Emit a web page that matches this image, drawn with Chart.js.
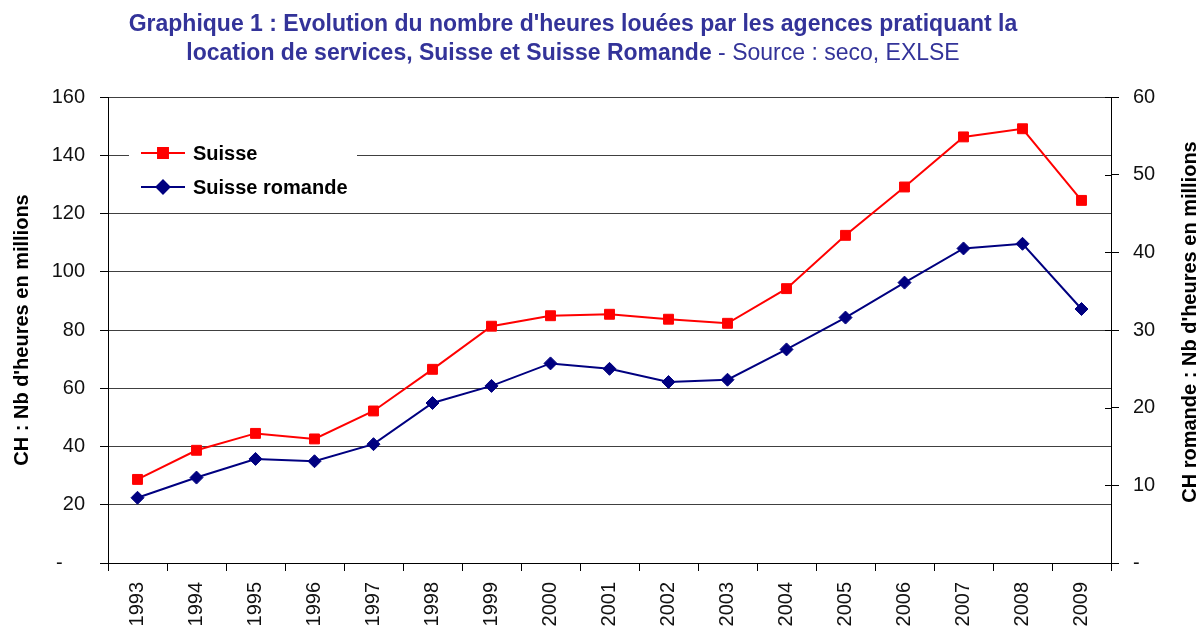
<!DOCTYPE html>
<html lang="fr">
<head>
<meta charset="utf-8">
<title>Graphique 1</title>
<script src="https://cdn.jsdelivr.net/npm/chart.js@4/dist/chart.umd.min.js"></script>
<style>
  body { margin: 0; background: #fff; }
  #wrap { position: relative; width: 1200px; height: 627px; }
  #titre {
    position: absolute; left: 0; top: 9px; width: 1146px;
    text-align: center; color: #333399;
    font: bold 23px "Liberation Sans", Arial, sans-serif; line-height: 29px;
  }
  #titre .src { font-weight: normal; }
</style>
</head>
<body>
<div id="wrap">
  <div id="titre">Graphique 1 : Evolution du nombre d'heures louées par les agences pratiquant la<br>location de services, Suisse et Suisse Romande <span class="src">- Source : seco, EXLSE</span></div>
  <canvas id="myChart"></canvas>
</div>
<script>
// Années
var annees = ['1993', '1994', '1995', '1996', '1997', '1998', '1999', '2000', '2001',
  '2002', '2003', '2004', '2005', '2006', '2007', '2008', '2009'];

// Heures louées, Suisse (axe gauche, millions)
var suisse = [28.7, 38.7, 44.5, 42.6, 52.2, 66.5, 81.3, 84.9, 85.4, 83.7, 82.3, 94.2,
  112.5, 129.1, 146.3, 149.1, 124.5];

// Heures louées, Suisse romande (axe droit, millions)
var romande = [8.4, 11.0, 13.4, 13.1, 15.3, 20.6, 22.8, 25.7, 25.0, 23.3, 23.6, 27.5,
  31.6, 36.1, 40.5, 41.1, 32.7];

var titreGauche = "CH : Nb d'heures en millions";
var titreDroite = "CH romande : Nb d'heures en millions";

document.addEventListener('DOMContentLoaded', function () {
  var police = '"Liberation Sans", Arial, sans-serif';
  Chart.defaults.font.family = police;
  Chart.defaults.color = '#111';

  var ctx = document.getElementById('myChart').getContext('2d');

  // Légende dans la zone du graphique, titre de l'axe droit, petits traits intérieurs
  var extras = {
    id: 'extras',
    afterDraw: function (chart) {
      var c = chart.ctx;
      var y1 = chart.scales.y1;
      var area = chart.chartArea;
      c.save();

      // traits de graduation qui traversent l'axe droit
      c.strokeStyle = '#000';
      c.lineWidth = 1;
      y1.ticks.forEach(function (t) {
        var py = Math.round(y1.getPixelForValue(t.value)) + 0.5;
        c.beginPath();
        c.moveTo(area.right - 6, py);
        c.lineTo(area.right, py);
        c.stroke();
      });

      // titre axe droit (lu de bas en haut)
      c.translate(1190, 322);
      c.rotate(-Math.PI / 2);
      c.font = 'bold 20px ' + police;
      c.fillStyle = '#000';
      c.textAlign = 'center';
      c.textBaseline = 'middle';
      c.fillText(titreDroite, 0, 0);
      c.restore();

      // légende
      c.save();
      c.fillStyle = '#fff';
      c.fillRect(129, 130, 228, 76);
      chart.data.datasets.forEach(function (ds, i) {
        var ly = 153 + i * 34;
        c.strokeStyle = ds.borderColor;
        c.lineWidth = 2;
        c.beginPath();
        c.moveTo(141, ly);
        c.lineTo(185, ly);
        c.stroke();
        Chart.helpers.drawPoint(c, {
          pointStyle: ds.pointStyle, radius: ds.pointRadius, borderWidth: 1
        }, 163, ly);
        c.fillStyle = ds.pointBackgroundColor;
        c.strokeStyle = ds.borderColor;
        c.lineWidth = 1;
        c.fill();
        c.stroke();
        c.fillStyle = '#000';
        c.font = 'bold 20px ' + police;
        c.textAlign = 'left';
        c.textBaseline = 'middle';
        c.fillText(ds.label, 193, ly + 1);
      });
      c.restore();
    }
  };

  var config = {
    type: 'line',
    data: {
      labels: annees,
      datasets: [{
        label: 'Suisse',
        data: suisse,
        yAxisID: 'y',
        borderColor: '#ff0000',
        backgroundColor: '#ff0000',
        pointBackgroundColor: '#ff0000',
        pointBorderColor: '#ff0000',
        borderWidth: 2,
        pointStyle: 'rect',
        pointRadius: 7,
        pointBorderWidth: 1,
        tension: 0
      }, {
        label: 'Suisse romande',
        data: romande,
        yAxisID: 'y1',
        borderColor: '#000080',
        backgroundColor: '#000080',
        pointBackgroundColor: '#000080',
        pointBorderColor: '#000080',
        borderWidth: 2,
        pointStyle: 'rectRot',
        pointRadius: 6.5,
        pointBorderWidth: 1,
        tension: 0
      }]
    },
    options: {
      responsive: true,
      maintainAspectRatio: false,
      animation: false,
      layout: { padding: { top: 97, left: 0, right: 0, bottom: 0 } },
      plugins: {
        legend: { display: false },
        title: { display: false },
        tooltip: { enabled: false }
      },
      scales: {
        x: {
          offset: true,
          afterFit: function (s) { s.height = 64; },
          border: { color: '#000', width: 1 },
          grid: { offset: true, drawOnChartArea: false, tickLength: 8, color: '#000' },
          ticks: {
            minRotation: 90, maxRotation: 90, autoSkip: false, padding: 11,
            font: { size: 20 }, color: '#111'
          }
        },
        y: {
          position: 'left',
          min: 0, max: 160,
          afterFit: function (s) { s.width = 108; },
          border: { color: '#000', width: 1 },
          grid: { color: '#404040', tickLength: 8, tickColor: '#000' },
          ticks: {
            stepSize: 20, padding: 15, font: { size: 20 }, color: '#111',
            callback: function (v) { return v === 0 ? '-    ' : v; }
          },
          title: {
            display: true, text: titreGauche, color: '#000',
            font: { size: 20, weight: 'bold' }, padding: { top: 10, bottom: 0 }
          }
        },
        y1: {
          position: 'right',
          min: 0, max: 60,
          afterFit: function (s) { s.width = 89; },
          border: { color: '#000', width: 1 },
          grid: { drawOnChartArea: false, tickLength: 8, color: '#000' },
          ticks: {
            stepSize: 10, padding: 14, font: { size: 20 }, color: '#111',
            callback: function (v) { return v === 0 ? '-' : v; }
          }
        }
      }
    },
    plugins: [extras]
  };

  var myChart = new Chart(ctx, config);
});
</script>
</body>
</html>
